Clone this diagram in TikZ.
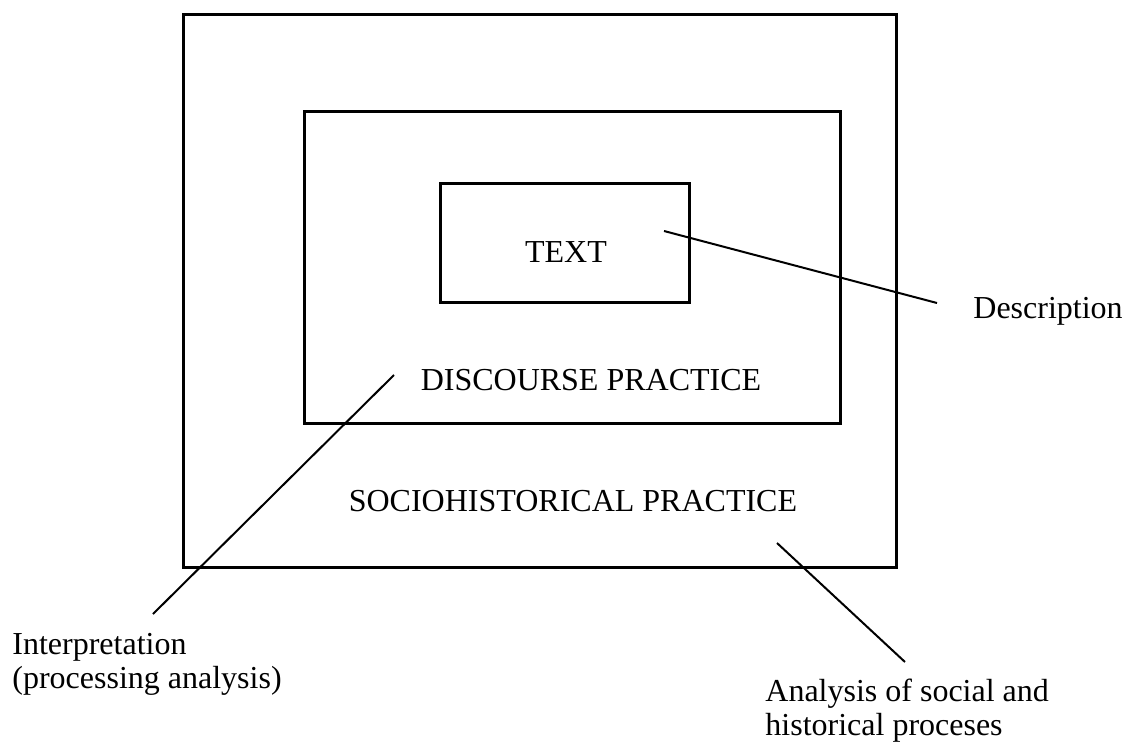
\documentclass[tikz,border=0pt]{standalone}
\usepackage{fontspec}
\setmainfont{Liberation Serif}
\usetikzlibrary{positioning}

\begin{document}
\begin{tikzpicture}[-, x=0.5pt, y=-0.5pt, box/.style={draw, line width=1.5pt}, lbl/.style={inner sep=0pt, font=\fontsize{16}{17}\selectfont, align=left}, pointer/.style={draw, line width=1pt}]
\useasboundingbox (0,0) rectangle (1125,744);
\draw[box] (183,14) rectangle (896,567);
\draw[box] (304,111) rectangle (840,423);
\draw[box] (440,183) rectangle (689,302);
\node[lbl, anchor=base] (txt) at (566,262) {TEXT};
\node[lbl, anchor=base] (disc) at (591,390) {DISCOURSE PRACTICE};
\node[lbl, anchor=base] (socio) at (573,511) {SOCIOHISTORICAL PRACTICE};
\node[lbl, anchor=base west] (desc) at (973,318) {Description};
\node[lbl, anchor=north west] (interp) at (12,633) {Interpretation\\(processing analysis)};
\node[lbl, anchor=north west] (analysis) at (765,679) {Analysis of social and\\historical proceses};
\coordinate (d1) at (664,231);
\coordinate (d2) at (937,303);
\coordinate (i1) at (394,375);
\coordinate (i2) at (153,614);
\coordinate (a1) at (777,543);
\coordinate (a2) at (905,662);
\path[pointer]
(d1) edge (d2)
(i1) edge (i2)
(a1) edge (a2);
\end{tikzpicture}
\end{document}
